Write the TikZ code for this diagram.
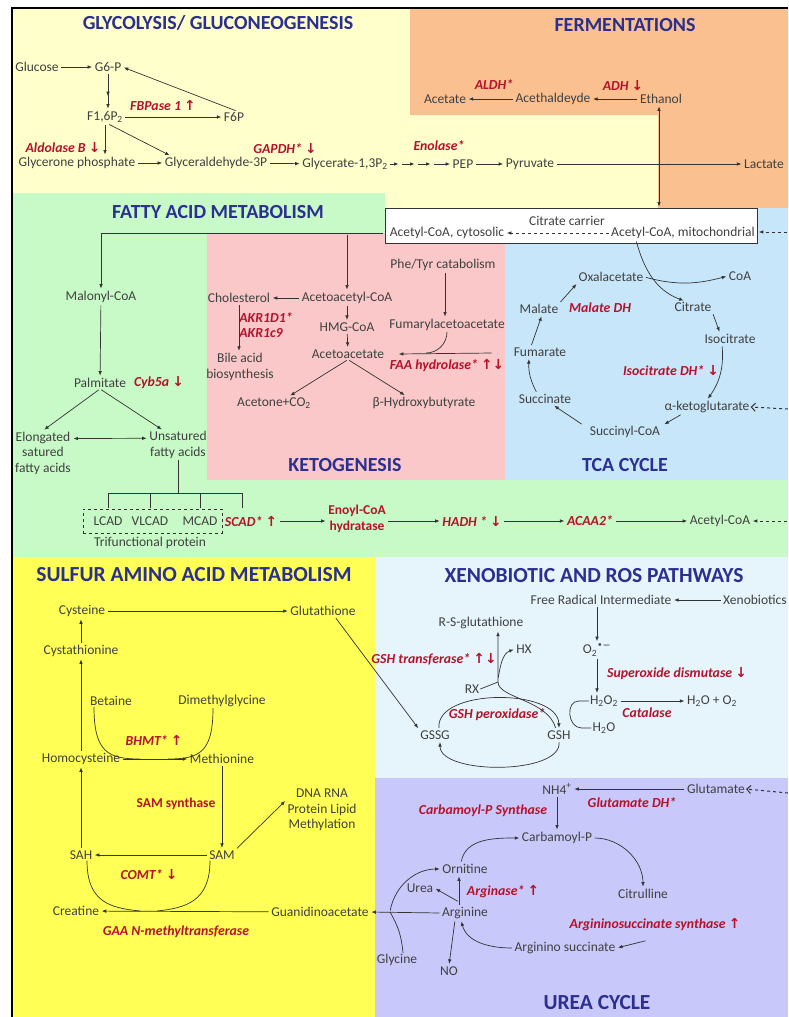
\documentclass[tikz,border=0pt]{standalone}
\usepackage{fontspec}
\setmainfont{Carlito}
\newfontfamily\arrowfont{DejaVu Sans}
\usetikzlibrary{arrows.meta}

\definecolor{txtgray}{HTML}{404040}
\definecolor{lngray}{HTML}{333333}
\definecolor{enzred}{HTML}{B5122B}
\definecolor{ttlblue}{HTML}{2B2F8F}
\definecolor{bgglyc}{HTML}{FFFFCC}
\definecolor{bgferm}{HTML}{FAC090}
\definecolor{bgfat}{HTML}{C8FAC8}
\definecolor{bgket}{HTML}{FAC8C8}
\definecolor{bgtca}{HTML}{C8E6FA}
\definecolor{bgsulf}{HTML}{FFFF55}
\definecolor{bgxeno}{HTML}{E6F4FC}
\definecolor{bgurea}{HTML}{C8C8FA}

\newcommand{\uarr}{{\arrowfont ↑}}
\newcommand{\darr}{{\arrowfont ↓}}

\begin{document}
\begin{tikzpicture}[x=1pt, y=-1pt,
  met/.style={text=txtgray, font=\fontsize{13.5}{15.5}\selectfont, inner sep=1pt},
  enz/.style={text=enzred, font=\fontsize{13.8}{15.5}\selectfont\bfseries\itshape, inner sep=1pt},
  enzup/.style={enz, font=\fontsize{13.5}{15.5}\selectfont\bfseries},
  ttl/.style={text=ttlblue, font=\fontsize{20}{22}\selectfont\bfseries},
  ttlw/.style={ttl, font=\fontsize{21.5}{23}\selectfont\bfseries},
  ln/.style={draw=lngray, line width=0.7pt},
  arr/.style={ln, -{Latex[length=4.5pt,width=3.6pt]}, shorten >=1.5pt, shorten <=1.5pt},
  arrboth/.style={arr, {Latex[length=4.5pt,width=3.6pt]}-{Latex[length=4.5pt,width=3.6pt]}},
  arrtwo/.style={arr, -{Latex[length=4.5pt,width=3.6pt,sep=8pt]Latex[length=4.5pt,width=3.6pt]}},
  dsh/.style={arr, dashed},
  chev/.style={ln, line width=1pt, dashed, -{Straight Barb[length=4pt,width=8pt]}}]

\useasboundingbox (0,0) rectangle (788,1017);
\fill[white] (0,0) rectangle (788,1017);

% backgrounds
\fill[bgglyc] (12,8) rectangle (788,208);
\fill[bgferm] (410,8) -- (788,8) -- (788,208) -- (658,208) -- (658,115) -- (410,115) -- cycle;
\fill[bgfat] (12,193) rectangle (385,233);
\fill[bgfat] (12,233) rectangle (207,480);
\fill[bgfat] (12,480) rectangle (788,557);
\fill[bgket] (207,233) rectangle (505,480);
\fill[bgtca] (505,208) rectangle (788,480);
\fill[bgsulf] (12,557) rectangle (375,1017);
\fill[bgxeno] (375,557) rectangle (788,778);
\fill[bgurea] (375,778) rectangle (788,1017);
\draw[black, line width=1.2pt] (12,1017) -- (12,8) -- (788,8);

% glycolysis
\node[ttl] (tglyc) at (218,23) {GLYCOLYSIS/ GLUCONEOGENESIS};
\node[met] (glc) at (37,67) {Glucose};
\node[met] (g6p) at (108,67) {G6-P};
\node[met] (f16) at (105,117) {F1,6P\textsubscript{2}};
\node[met] (f6p) at (234,117) {F6P};
\node[met] (gcp) at (77,163) {Glycerone phosphate};
\node[met] (g3p) at (216,163) {Glyceraldehyde-3P};
\node[met] (g13) at (345,164) {Glycerate-1,3P\textsubscript{2}};
\node[met] (pep) at (463,164) {PEP};
\node[met] (pyr) at (530,164) {Pyruvate};
\node[met] (lac) at (764,164) {Lactate};
\node[enz] (efbp) at (163,105) {FBPase 1 \uarr};
\node[enz] (eald) at (63,148) {Aldolase B \darr};
\node[enz] (egap) at (285,149) {GAPDH* \darr};
\node[enz] (eeno) at (439,146) {Enolase*};

\draw[arr] (glc) -- (g6p);
\draw[arrtwo] (g6p.south) -- (g6p.south |- f16.north);
\draw[arr] (f16) -- (f6p);
\draw[arr] ([xshift=3pt]f6p.north) -- (g6p.east);
\draw[arr] (f16.south) -- (f16.south |- gcp.north);
\draw[arr] ([xshift=3pt]f16.south) -- ([xshift=-45pt]g3p.north);
\draw[arr] (gcp) -- (g3p);
\draw[arr] (g3p) -- (g13);
\foreach \i/\x in {1/400,2/416,3/432}
  \coordinate (ch\i) at (\x,164);
\draw[arr] (g13) -- (ch1);
\draw[arr] (ch1) -- (ch2);
\draw[arr] (ch2) -- (ch3);
\draw[arr] (ch3) -- (pep);
\draw[arr] (pep) -- (pyr);
\draw[arr] (pyr) -- (lac);

% fermentations
\node[ttl] (tferm) at (625,25) {FERMENTATIONS};
\node[met] (act) at (445,99) {Acetate};
\node[met] (ald) at (553,99) {Acethaldeyde};
\node[met] (eth) at (661,99) {Ethanol};
\node[enz] (ealdh) at (494,85) {ALDH*};
\node[enz] (eadh) at (623,85) {ADH \darr};
\draw[arr] (ald) -- (act);
\draw[arr] (eth) -- (ald);

% citrate carrier box
\node[draw=lngray, fill=white, line width=0.6pt, minimum width=372pt, minimum height=35pt, inner sep=0pt] (carrier) at (571,226) {};
\node[met] (ccar) at (567,221) {Citrate carrier};
\node[met] (acc) at (447,233) {Acetyl-CoA, cytosolic};
\node[met] (acm) at (683,233) {Acetyl-CoA, mitochondrial};
\draw[dsh] (acm) -- (acc);
\coordinate (redge1) at (788,232);
\draw[dsh] (redge1) -- (carrier.east |- redge1);
\draw[arrboth] ([xshift=-2pt]eth.south |- carrier.north) -- ([xshift=-2pt]eth.south);

% fatty acid metabolism
\node[ttl] (tfat) at (218,212) {FATTY ACID METABOLISM};
\node[met] (mal) at (101,297) {Malonyl-CoA};
\node[met] (pal) at (100,383) {Palmitate};
\node[enz] (ecyb) at (159,383) {Cyb5a \darr};
\node[met, align=center] (elo) at (43,453) {Elongated\\satured\\fatty acids};
\node[met, align=center] (uns) at (178,445) {Unsatured\\fatty acids};
\draw[arr] (carrier.west |- acc) -| (mal.north);
\draw[arr] (mal) -- (pal);
\draw[arr] (pal.south) -- (elo.north);
\draw[arr] (pal.south) -- ([xshift=-15pt]uns.north);
\draw[arrboth] ([yshift=-8pt]elo.north east) -- ([yshift=-8pt]uns.north west);

% beta oxidation
\coordinate (trk) at (178,493);
\draw[ln] (uns.south) -- (trk);
\draw[ln] (108,493) -- (242,493);
\foreach \x in {108,150,200,242}
  \draw[ln] (\x,493) -- (\x,508);
\node[draw=lngray, dashed, line width=0.6pt, minimum width=139pt, minimum height=24pt] (trif) at (152.5,521) {};
\node[met] (lcad) at (108,521) {LCAD};
\node[met] (vlcad) at (150,521) {VLCAD};
\node[met] (mcad) at (200,521) {MCAD};
\node[met] (trifp) at (150,543) {Trifunctional protein};
\node[enz] (escad) at (251,521) {SCAD* \uarr};
\node[enzup, align=center] (eenoyl) at (357,519) {Enoyl-CoA\\hydratase};
\node[enz] (ehadh) at (472,521) {HADH * \darr};
\node[enz] (eacaa) at (590,521) {ACAA2*};
\node[met] (acoab) at (720,521) {Acetyl-CoA};
\draw[arr] (escad) -- (escad -| eenoyl.west);
\draw[arr] (ehadh -| eenoyl.east) -- (ehadh);
\draw[arr] (ehadh) -- (eacaa);
\draw[arr] (eacaa) -- (acoab);
\coordinate (redge2) at (788,521);
\draw[dsh] (redge2) -- (acoab);

% ketogenesis
\node[met] (aacoa) at (347,298) {Acetoacetyl-CoA};
\node[met] (chol) at (239,298) {Cholesterol};
\node[enz, align=left] (eakr) at (266,325) {AKR1D1*\\AKR1c9};
\node[met, align=center] (bile) at (240,367) {Bile acid\\biosynthesis};
\node[met] (hmg) at (347,327) {HMG-CoA};
\node[met] (aac) at (348,354) {Acetoacetate};
\node[met] (phe) at (443,265) {Phe/Tyr catabolism};
\node[met] (fum) at (447,325) {Fumarylacetoacetate};
\node[enz] (efaa) at (447,366) {FAA hydrolase* \uarr\darr};
\node[met] (acet) at (274,403) {Acetone+CO\textsubscript{2}};
\node[met] (bhb) at (424,403) {β-Hydroxybutyrate};
\node[ttl] (tket) at (345,465) {KETOGENESIS};
\draw[arr] (aacoa |- acc) -- (aacoa.north);
\draw[arr] (aacoa) -- (chol);
\draw[arr] (chol.south) -- (chol.south |- bile.north);
\draw[arr] (aacoa) -- (hmg);
\draw[arr] (hmg) -- (aac);
\draw[arr] ([xshift=2pt]phe.south) -- ([xshift=2pt]phe.south |- fum.north);
\coordinate (faain) at (493,353);
\draw[arr] (faain) -- ([xshift=12pt]aac.east);
\draw[ln] (fum.south) to[out=-90, in=0] (426,353);
\draw[arr] (aac.south) -- ([xshift=15pt]acet.north);
\draw[arr] (aac.south) -- ([xshift=-18pt]bhb.north);

% TCA cycle
\node[met] (oxa) at (611,277) {Oxalacetate};
\node[met] (coa) at (740,276) {CoA};
\node[met] (cit) at (693,307) {Citrate};
\node[met] (iso) at (730,339) {Isocitrate};
\node[met] (akg) at (707,407) {α-ketoglutarate};
\node[met] (scoa) at (625,432) {Succinyl-CoA};
\node[met] (succ) at (545,399) {Succinate};
\node[met] (fumr) at (540,352) {Fumarate};
\node[met] (malt) at (539,309) {Malate};
\node[enz] (emdh) at (600,308) {Malate DH};
\node[enz] (eidh) at (671,371) {Isocitrate DH* \darr};
\node[ttl] (ttca) at (625,465) {TCA CYCLE};
\draw[arr] ([xshift=-47pt]acm.south) to[out=-75, in=160] ([xshift=-8pt]cit.north);
\draw[arr] (oxa.east) to[out=-15, in=195] (coa.west);
\draw[arr] (cit.south east) -- ([xshift=-10pt]iso.north);
\draw[arr] ([xshift=-8pt]iso.south) to[bend left=20] (akg.north);
\draw[arr] ([xshift=-25pt]akg.south) -- ([xshift=38pt]scoa.north);
\draw[arr] ([xshift=-42pt]scoa.north) -- ([xshift=8pt]succ.south);
\draw[arr] ([xshift=-8pt]succ.north) to[bend left=15] ([xshift=-11pt]fumr.south);
\draw[arr] ([xshift=-9pt]fumr.north) -- ([xshift=3pt]malt.south);
\draw[arr] (malt.north east) -- (oxa.south west);
\coordinate (redge3) at (788,409);
\draw[chev] (redge3) -- (akg.east);

% sulfur amino acid metabolism
\node[ttlw] (tsulf) at (194,575) {SULFUR AMINO ACID METABOLISM};
\node[met] (cys) at (82,611) {Cysteine};
\node[met] (gth) at (323,611) {Glutathione};
\node[met] (cyst) at (81,651) {Cystathionine};
\node[met] (bet) at (111,701) {Betaine};
\node[met] (dmg) at (222,701) {Dimethylglycine};
\node[enz] (ebhmt) at (154,740) {BHMT* \uarr};
\node[met] (hcy) at (81,759) {Homocysteine};
\node[met] (meth) at (222,759) {Methionine};
\node[enzup] (esam) at (176,804) {SAM synthase};
\node[met, align=center] (dna) at (322,810) {DNA RNA\\Protein Lipid\\Methylation};
\node[met] (sam) at (222,855) {SAM};
\node[met] (sah) at (81,855) {SAH};
\node[enz] (ecomt) at (149,875) {COMT* \darr};
\node[met] (crea) at (76,911) {Creatine};
\node[met] (guan) at (320,912) {Guanidinoacetate};
\node[enz] (egaa) at (176,932) {GAA N-methyltransferase};
\draw[arr] (cys) -- (gth);
\draw[arr] (cyst.north) -- (cyst.north |- cys.south);
\draw[arr] (hcy.north) -- (hcy.north |- cyst.south);
\draw[arr] (sah.north) -- (sah.north |- hcy.south);
\draw[arr] (hcy) -- (meth);
\coordinate (bhmtin) at (140,759);
\coordinate (bhmtout) at (168,759);
\draw[ln] ([xshift=-17pt]bet.south) .. controls (94,752) and (108,759) .. (bhmtin);
\draw[ln] ([xshift=-9pt]dmg.south) .. controls (213,752) and (200,759) .. (bhmtout);
\draw[arr] (meth.south) -- (meth.south |- sam.north);
\draw[arr] (sam.north east) -- ([yshift=-12pt]dna.north west);
\draw[arr] (sam) -- (sah);
\draw[arr] (guan) -- (crea);
\coordinate (gaain) at (140,911);
\coordinate (gaaout) at (157,911);
\draw[ln] ([xshift=6pt]sah.south) .. controls (87,902) and (110,908) .. (gaain);
\draw[ln] ([xshift=-12pt]sam.south) .. controls (210,902) and (185,908) .. (gaaout);

% xenobiotic and ROS pathways
\node[ttlw] (txeno) at (594,576) {XENOBIOTIC AND ROS PATHWAYS};
\node[met] (fri) at (601,600) {Free Radical Intermediate};
\node[met, anchor=west] (xen) at (722,600) {Xenobiotics};
\node[met] (rsg) at (481,623) {R-S-glutathione};
\node[met] (hx) at (524,649) {HX};
\node[enz] (egst) at (434,659) {GSH transferase* \uarr\darr};
\node[met] (rx) at (472,689) {RX};
\node[met] (sup) at (597,650) {O\textsubscript{2}\textsuperscript{\arrowfont •−}};
\node[enz] (esod) at (677,674) {Superoxide dismutase \darr};
\node[met] (h2o2) at (604,701) {H\textsubscript{2}O\textsubscript{2}};
\node[met] (wox) at (712,701) {H\textsubscript{2}O + O\textsubscript{2}};
\node[enz] (ecat) at (647,713) {Catalase};
\node[met] (h2o) at (604,728) {H\textsubscript{2}O};
\node[met] (gssg) at (435,735) {GSSG};
\node[met] (gsh) at (559,735) {GSH};
\node[enz] (egpx) at (497,715) {GSH peroxidase*};
\draw[arr] (xen.west) -- (fri.east);
\draw[arr] (fri.south -| sup) -- (sup.north);
\draw[arr] (sup.south) -- (sup.south |- h2o2.north);
\draw[arr] (h2o2) -- (wox);
\draw[arr] ([xshift=12pt]gth.south) -- (gssg.north west);
\draw[arr] ([xshift=4pt]gssg.north) .. controls (436,688) and (558,688) .. (gsh.north);
\draw[arr] (gsh.south) .. controls (562,775) and (440,775) .. ([xshift=5pt]gssg.south);
\coordinate (rsj) at (498,682);
\draw[arr] ([xshift=-3pt]gsh.north) .. controls (548,700) and (498,698) .. (rsj) -- (rsj |- rsg.south);
\draw[arr] ([yshift=3pt]rsj) to[out=80, in=200] (hx.west);
\draw[ln] (rx.east) -- (rsj);
\draw[ln] (h2o2.west) -- ++(-10,0) to[out=180, in=180, looseness=1.3] ([xshift=-10pt]h2o.west) -- (h2o.west);

% urea cycle
\node[ttlw] (turea) at (597,1003) {UREA CYCLE};
\node[met] (nh4) at (557,789) {NH4\textsuperscript{+}};
\node[met] (glu) at (716,789) {Glutamate};
\node[enz] (egdh) at (632,803) {Glutamate DH*};
\node[enz] (ecps) at (483,811) {Carbamoyl-P Synthase};
\node[met] (carb) at (557,838) {Carbamoyl-P};
\node[met] (orn) at (465,869) {Ornitine};
\node[met] (urea) at (420,888) {Urea};
\node[enz] (earg) at (503,892) {Arginase* \uarr};
\node[met] (citr) at (643,894) {Citrulline};
\node[met] (arg) at (465,913) {Arginine};
\node[enz] (eass) at (655,925) {Argininosuccinate synthase \uarr};
\node[met] (asuc) at (565,948) {Arginino succinate};
\node[met] (gly) at (397,960) {Glycine};
\node[met] (no) at (449,971) {NO};
\coordinate (redge4) at (788,793);
\draw[chev] (redge4) -- (glu.east);
\draw[arr] (glu) -- (nh4);
\draw[arr] (nh4.south) -- (nh4.south |- carb.north);
\draw[arr] ([xshift=-4pt]orn.north) to[out=80, in=180] (carb.west);
\draw[arr] (carb.east) to[out=0, in=90] (citr.north);
\draw[arr] ([xshift=-8pt,yshift=-8pt]eass.south) -- (asuc.east);
\draw[arr] (asuc.west) to[out=180, in=-75] ([xshift=-4pt]arg.south);
\draw[arr] ([xshift=-6pt]arg.north) -- ([xshift=-6pt]orn.south);
\draw[arr] ([xshift=-6pt,yshift=4pt]arg.north) -- (urea.east);
\draw[arr] ([xshift=-10pt]arg.south) -- (no.north);
\draw[arr] (arg.west) -- (guan.east);
\coordinate (ujn) at (390,912);
\draw[arr] (ujn) to[out=80, in=180] (orn.west);
\draw[ln] ([xshift=6pt]gly.north) to[out=95, in=-60] (ujn);
\end{tikzpicture}
\end{document}
